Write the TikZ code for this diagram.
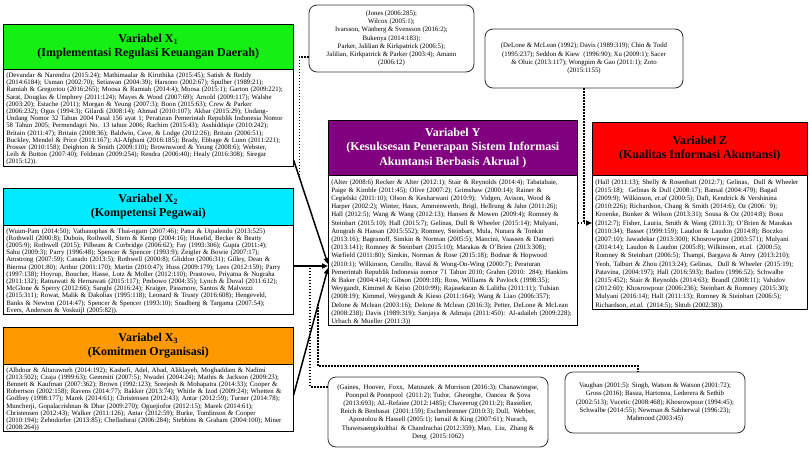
\documentclass[tikz,border=0pt]{standalone}
\usepackage{fontspec}
\setmainfont{Liberation Serif}
\usetikzlibrary{arrows.meta,calc}

\definecolor{xgreen}{RGB}{20,240,20}
\definecolor{xcyan}{RGB}{0,235,255}
\definecolor{xorange}{RGB}{255,153,0}
\definecolor{ypurple}{RGB}{128,0,128}
\definecolor{zred}{RGB}{255,0,0}

\newcommand\jl[1]{\par\hbox to\hsize{#1}}
\newcommand\lastln[1]{\par\hbox{#1}}

\tikzset{
  hdrbox/.style={draw=black, line width=0.6pt, anchor=north west, inner sep=0pt,
    align=center, font=\fontsize{12}{14.5}\selectfont\bfseries},
  refbox/.style={draw=black, line width=0.6pt, anchor=north west, fill=white,
    inner xsep=3pt, inner ysep=0.5pt, font=\fontsize{6.8}{8.2}\selectfont},
  xrefbox/.style={refbox, font=\fontsize{6.8}{7.2}\selectfont},
  citebox/.style={draw=black!80, line width=0.8pt, rounded corners=8pt, align=center,
    fill=white, inner sep=2pt, font=\fontsize{6.8}{8.2}\selectfont},
  mainarrow/.style={line width=1.5pt, -{Triangle[length=6pt,width=5pt]}},
  dotline/.style={line width=1.8pt, dash pattern=on 1.6pt off 1.4pt},
}

\begin{document}
\begin{tikzpicture}[x=1pt,y=-1pt]
\useasboundingbox[fill=white] (0,0) rectangle (809,461);

% ---------- X1 ----------
\node[hdrbox, fill=xgreen, minimum width=290pt, minimum height=45pt] (x1h) at (3,24)
  {Variabel X\textsubscript{1}\\(Implementasi Regulasi Keuangan Daerah)};
\node[xrefbox, text width=284pt, minimum width=290pt, minimum height=97pt] (x1t) at (3,69) {%
\jl{(Devandar \& Narendra (2015:24); Mathimaalar \& Kiruthika (2015:45); Satish \& Reddy}
\jl{(2014:6184); Usman (2002:70); Setiawan (2004:39); Harsono (2002:67); Spulber (1989:21);}
\jl{Ramiah \& Gregoriou (2016:265); Moosa \& Ramiah (2014:4); Moosa (2015:1); Garton (2009:221);}
\jl{Sarat, Douglas \& Umphrey (2011:124); Mayes \& Wood (2007:69); Arnold (2009:117); Walshe}
\jl{(2003:20); Estache (2011); Morgan \& Yeung (2007:3); Boon (2015:63); Crew \& Parker}
\jl{(2006:232); Ogus (1994:3); Gilardi (2008:14); Ahmad (2010:107); Akbar (2015:29); Undang-}
\jl{Undang Nomor 32 Tahun 2004 Pasal 156 ayat 1; Peraturan Pemerintah Republik Indonesia Nomor}
\jl{58 Tahun 2005; Permendagri No. 13 tahun 2006; Rachim (2015:43); Asshiddiqie (2010:242);}
\jl{Britain (2011:47); Britain (2008:36); Baldwin, Cave, \& Lodge (2012:26); Britain (2006:51);}
\jl{Buckley, Mendel \& Price (2011:167); Al-Afghani (2016:185); Brady, Ebbage \& Lunn (2011:221);}
\jl{Prosser (2010:158); Deighton \& Smith (2009:110); Brownsword \& Yeung (2008:6); Webster,}
\jl{Leib \& Button (2007:40); Feldman (2009:254); Rendra (2006:40); Healy (2016:308); Siregar}
\lastln{(2015:12)).}};

% ---------- X2 ----------
\node[hdrbox, fill=xcyan, minimum width=290pt, minimum height=37pt] (x2h) at (3,188)
  {Variabel X\textsubscript{2}\\(Kompetensi Pegawai)};
\node[xrefbox, text width=284pt, minimum width=290pt, minimum height=89pt] (x2t) at (3,225) {%
\jl{(Wuim-Pam (2014:50); Vathanophas \& Thai-ngam (2007:46); Patra \& Utpalendu (2013:525)}
\jl{(Rothwell (2000:8); Dubois, Rothwell, Stern \& Kemp (2004:16); Huselid, Becker \& Beatty}
\jl{(2005:9); Rothwell (2015); Pilbeam \& Corbridge (2006:62); Fay (1993:306); Gupta (2011:4);}
\jl{Sahu (2009:3); Parry (1996:48); Spencer \& Spencer (1993:9); Zeigler \& Bowie (2007:17);}
\jl{Amstrong (2007:59); Canado (2013:5); Rothwell (2000:8); Gliddon (2006:31); Gilley, Dean \&}
\jl{Bierma (2001:80); Arthur (2001:170); Martin (2010:47); Huss (2009:179); Lees (2012:159); Parry}
\jl{(1997:138); Hoyrup, Boucher, Hasse, Lotz \& Moller (2012:110); Prastowo, Priyatna \& Nugraha}
\jl{(2011:132); Ratnawati \& Hernawati (2015:117); Pmbowo (2004:35); Lynch \& Duval (2011:612);}
\jl{McGlone \& Sperry (2012:66); Sanghi (2016:24); Kraiger, Passmore, Santos \& Malvezzi}
\jl{(2015:311); Rowat, Malik \& Dakolias (1995:118); Leonard \& Trusty (2016:608); Hengeveld,}
\jl{Banks \& Newton (2014:47); Spencer \& Spencer (1993:10); Snadberg \& Targama (2007:54);}
\lastln{Evers, Anderson \& Voskuijl (2005:82)).}};

% ---------- X3 ----------
\node[hdrbox, fill=xorange, minimum width=290pt, minimum height=37pt] (x3h) at (3,327)
  {Variabel X\textsubscript{3}\\(Komitmen Organisasi)};
\node[xrefbox, text width=284pt, minimum width=290pt, minimum height=66pt] (x3t) at (3,364) {%
\jl{(Albdour \& Altarawneh (2014:192); Kashefi, Adel, Abad, Aliklayeh, Moghaddam \& Nadimi}
\jl{(2013:502); Czaja (1999:63); Gemmiti (2007:5); Nwadei (2004:24); Mathis \& Jackson (2009:23);}
\jl{Bennett \& Kaufman (2007:362); Brown (1992:123); Sreejesh \& Mohapatra (2014:33); Cooper \&}
\jl{Robertson (2002:158); Ravens (2014:77); Bakker (2013:74); Whitle \& Izod (2009:24); Whetten \&}
\jl{Godfrey (1998:177); Marek (2014:61); Christensen (2012:43); Antar (2012:59); Turner (2014:78);}
\jl{Muncherji, Gopalacrishnan \& Dhar (2009:270); Oguejiofor (2012:15); Marek (2014:61);}
\jl{Christensen (2012:43); Walker (2011:126); Antar (2012:59); Burke, Tomlinson \& Cooper}
\jl{(2010:194); Zehndorfer (2013:85); Chelladurai (2006:284); Stebbins \& Graham (2004:100); Miner}
\lastln{(2008:264))}};

% ---------- Y ----------
\node[hdrbox, fill=ypurple, text=white, minimum width=249pt, minimum height=55pt] (yh) at (328,120)
  {Variabel Y\\(Kesuksesan Penerapan Sistem Informasi\\Akuntansi Berbasis Akrual )};
\node[refbox, text width=243pt, minimum width=249pt, minimum height=150pt] (yt) at (328,175) {%
\jl{(Alter (2008:6) Recker \& Alter (2012:1); Stair \& Reynolds (2014:4); Tabatabaie,}
\jl{Paige \& Kimble (2011:45); Olive (2007:2); Grimshaw (2000:14); Rainer \&}
\jl{Cegielski (2011:10); Olson \& Kesharwani (2010:9);\ \ Vidgen, Avison, Wood \&}
\jl{Harper (2002:2); Winter, Haux, Ammenwerth, Brigl, Hellrung \& Jahn (2011:26);}
\jl{Hall (2012:5); Wang \& Wang (2012:13); Hansen \& Mowen (2009:4); Romney \&}
\jl{Steinbart (2015:10); Hall (2015:7); Gelinas, Dull \& Wheeler (2015:14); Mulyani,}
\jl{Anugrah \& Hassan (2015:552); Romney, Steinbart, Mula, Nunara \& Tonkin}
\jl{(2013:16); Bagranoff, Simkin \& Norman (2005:5); Mancini, Vaassen \& Dameri}
\jl{(2013:141); Romney \& Steinbart (2015:10); Marakas \& O'Brien (2013:308);}
\jl{Warfield (2011:80); Simkin, Norman \& Rose (2015:18); Bodnar \& Hopwood}
\jl{(2010:1); Wilkinson, Cerullo, Raval \& Wong-On-Wing (2000:7); Peraturan}
\jl{Pemerintah Republik Indonesia nomor 71 Tahun 2010; Grahm (2010: 284); Hankins}
\jl{\& Baker (2004:414); Gibson (2009:18); Ross, Williams \& Pavlock (1998:35);}
\jl{Weygandt, Kimmel \& Keiso (2010:99); Rajasekaran \& Lalitha (2011:11); Tulsian}
\jl{(2008:19); Kimmel, Weygandt \& Kieso (2011:164); Wang \& Liao (2006:357);}
\jl{Delone \& Mclean (2003:16); Delone \& Mclean (2016:3); Petter, DeLone \& McLean}
\jl{(2008:238); Davis (1989:319); Sanjaya \& Admaja (2011:450): Al-adaileh (2009:228);}
\lastln{Urbach \& Mueller (2011:3))}};

% ---------- Z ----------
\node[hdrbox, fill=zred, minimum width=215pt, minimum height=53pt] (zh) at (592,122)
  {Variabel Z\\(Kualitas Informasi Akuntansi)};
\node[refbox, text width=209pt, minimum width=215pt, minimum height=133pt] (zt) at (592,175) {%
\jl{(Hall (2011:13); Shelly \& Rosenbatt (2012:7); Gelinas,\ \ Dull \& Wheeler}
\jl{(2015:18);\ \ Gelinas \& Dull (2008:17); Bansal (2004:479); Bagad}
\jl{(2009:9); Wilkinson, \textit{et.al} (2000:5); Daft, Kendrick \& Vershinina}
\jl{(2010:226); Richardson, Chang \& Smith (2014:6); Oz (2006: 9);}
\jl{Kroenke, Bunker \& Wilson (2013:31); Sousa \& Oz (2014:8); Bosu}
\jl{(2012:7); Fisher, Lauria, Smith \& Wang (2011:3); O'Brien \& Marakas}
\jl{(2010:34); Basset (1999:159); Laudon \& Laudon (2014:8); Boczko}
\jl{(2007:10); Jawadekar (2013:300); Khosrowpour (2003:571); Mulyani}
\jl{(2014:14); Laudon \& Laudon (2005:8); Wilkinson, \textit{et.al.} (2000:5);}
\jl{Romney \& Steinbart (2006:5); Thampi, Bargava \& Atrey (2013:210);}
\jl{Yeoh, Talburt \& Zhou (2013:24); Gelinas,\ \ Dull \& Wheeler (2015:19);}
\jl{Patavina, (2004:197); Hall (2016:593); Badiru (1996:52); Schwalbe}
\jl{(2015:452); Stair \& Reynolds (2014:63); Brandl (2008:11); Vahidov}
\jl{(2012:60); Khosrowpour (2006:236); Steinbart \& Romney (2015:30);}
\jl{Mulyani (2016:14); Hall (2011:13); Romney \& Steinbart (2006:5);}
\lastln{Richardson, \textit{et.al.} (2014:5); Shtub (2002:38)).}};

% ---------- citation boxes ----------
\node[citebox, minimum width=165pt, minimum height=67pt] (jones) at (391.5,38.5)
  {(Jones (2006:285);\\Wilcox (2005:1);\\Ivarsson, Wänberg \& Svensson (2016:2);\\Bukenya (2014:183);\\Parker, Jalilian \& Kirkpatrick (2006:5);\\Jalilian, Kirkpatrick \& Parker (2003:4); Amann\\(2006:12)};
\node[citebox, minimum width=198pt, minimum height=59pt] (delone) at (584,58.5)
  {(DeLone \& McLean (1992); Davis (1989:319); Chin \& Todd\\(1995:237); Seddon \& Kiew\ \ (1996:90); Xu (2009:1); Sacer\\\& Oluic (2013:117); Wongpim \& Gao (2011:1); Zoto\\(2015:1155)};
\node[citebox, minimum width=220pt, minimum height=70pt] (gaines) at (438,412)
  {(Gaines,\ \ Hoover,\ \ Foxx,\ \ Matuszek\ \ \& Morrison (2016:3); Chanawongse,\\Poonpol \& Poonpool\ \ (2011:2); Tudor,\ \ Gheorghe,\ \ Oancea\ \ \& Şova\\(2013:693); AL-Refaiee (2012:1485); Chaveerug (2011:2); Basselier,\\Reich \& Benbasat\ \ (2001:159); Eschenbrenner (2010:3); Dull,\ \ Webber,\\Apostolou \& Hassell (2005:1); Ismail \& King (2007:61); Nurach,\\Thawesaengskulthai\ \ \& Chandrachai (2012:359); Mao,\ \ Liu,\ \ Zhang \&\\Deng\ \ (2015:1062)};
\node[citebox, minimum width=180pt, minimum height=61pt] (vaughan) at (655,402.5)
  {Vaughan (2001:5): Singh, Watson \& Watson (2001:72);\\Gross (2016); Basua, Hartonoa, Lederera \& Sethib\\(2002:513); Vucetic (2008:468); Khosrowpour (1994:45);\\Schwalbe (2014:55); Newman \& Sabherwal (1996:23);\\Mahmood (2003:45)};

% ---------- main arrows ----------
\coordinate (x1o) at (x1t.east |- 0,160);
\coordinate (x2o) at (x2t.east |- 0,266);
\coordinate (x3o) at (x3t.east |- 0,395);
\coordinate (y1) at (yt.west |- 0,264);
\coordinate (y2) at (yt.west |- 0,266);
\coordinate (y3) at (yt.west |- 0,268);
\draw[mainarrow] (x1o) -- (y1);
\draw[mainarrow] (x2o) -- (y2);
\draw[mainarrow] (x3o) -- (y3);

% junctions on arrows
\coordinate (j1) at ($(x1o)!0.17!(y1)$);
\coordinate (j2) at ($(x2o)!0.486!(y2)$);
\coordinate (j3) at ($(x3o)!0.714!(y3)$);

% ---------- dotted connectors ----------
\draw[dotline] (jones.west |- 0,57) -| (j1);
\draw[dotline] (gaines.west |- 0,387) -| (j2);
\draw[dotline] (j3) |- (638,366) -- (vaughan.north -| 638,0);
\coordinate (yz) at (yt.east |- 0,223);
\draw[dotline] (delone.south) -- (delone.south |- yz);
\draw[dotline, -{Triangle[length=6pt,width=5pt]}] (yz) -- (zt.west |- yz);
\end{tikzpicture}
\end{document}
